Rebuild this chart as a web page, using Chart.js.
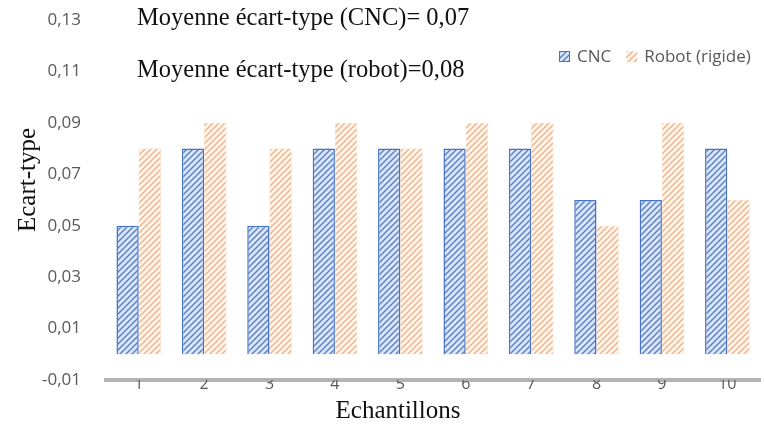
<!DOCTYPE html>
<html><head><meta charset="utf-8">
<script src="https://cdn.jsdelivr.net/npm/chart.js@4/dist/chart.umd.min.js"></script>
<style>html,body{margin:0;padding:0;background:#fff}#wrap{width:764px;height:427px}</style>
</head><body><div id="wrap"><canvas id="c" width="764" height="427"></canvas></div>
<script>
const categories = ['1','2','3','4','5','6','7','8','9','10'];
const cncValues = [0.05,0.08,0.05,0.08,0.08,0.08,0.08,0.06,0.06,0.08];
const robotValues = [0.08,0.09,0.08,0.09,0.08,0.09,0.09,0.05,0.09,0.06];
const seriesNames = ['CNC','Robot (rigide)'];
const yTicks = [-0.01,0.01,0.03,0.05,0.07,0.09,0.11,0.13];
const annotations = [
  {text:'Moyenne écart-type (CNC)= 0,07', y:0.13},
  {text:'Moyenne écart-type (robot)=0,08', y:0.11}
];
const xTitle = 'Echantillons';
const yTitle = 'Ecart-type';

function hatch(bg, fg){
  const c=document.createElement('canvas');c.width=6;c.height=6;
  const g=c.getContext('2d');g.fillStyle=bg;g.fillRect(0,0,6,6);
  g.strokeStyle=fg;g.lineWidth=1.4;
  g.beginPath();
  g.moveTo(-1,7);g.lineTo(7,-1);
  g.moveTo(-1,1);g.lineTo(1,-1);
  g.moveTo(5,7);g.lineTo(7,5);
  g.stroke();
  return g.createPattern(c,'repeat');
}
const cncFill = hatch('#dbe5f5','#5580cc');
const robotFill = hatch('#fff6ee','#f4b183');

const extras = {
  id:'extras',
  afterDraw(chart){
    const ctx=chart.ctx, y=chart.scales.y;
    ctx.save();
    ctx.fillStyle='#111';
    ctx.font='24.5px "Liberation Serif"';
    ctx.textBaseline='middle';ctx.textAlign='left';
    annotations.forEach(a=>ctx.fillText(a.text, 137, y.getPixelForValue(a.y)-1));
    ctx.font='25px "Liberation Serif"';
    ctx.textAlign='center';
    ctx.fillText(xTitle, 398, 411);
    ctx.save();ctx.translate(28,180);ctx.rotate(-Math.PI/2);ctx.fillText(yTitle,0,0);ctx.restore();
    // legend
    ctx.font='17px "Open Sans"';ctx.textAlign='left';
    const ly=57;
    const fills=[cncFill,robotFill], borders=['#4472c4',null];
    let lx=559;
    seriesNames.forEach((n,i)=>{
      ctx.fillStyle=fills[i];ctx.fillRect(lx,ly-6,11,11);
      if(borders[i]){ctx.strokeStyle=borders[i];ctx.lineWidth=1;ctx.strokeRect(lx+0.5,ly-5.5,10,10);}
      ctx.fillStyle='#595959';ctx.fillText(n,lx+18,ly);
      lx+=18+ctx.measureText(n).width+15;
    });
    ctx.restore();
  }
};

new Chart(document.getElementById('c'),{
  type:'bar',
  data:{labels:categories,datasets:[
    {label:seriesNames[0],data:cncValues,backgroundColor:cncFill,borderColor:'#4472c4',borderWidth:1.5,categoryPercentage:0.68,barPercentage:1.0},
    {label:seriesNames[1],data:robotValues,backgroundColor:robotFill,borderColor:'#f8cbad',borderWidth:0.5,categoryPercentage:0.68,barPercentage:1.0}
  ]},
  options:{
    responsive:false,animation:false,
    layout:{padding:{top:20,right:4,left:0,bottom:0}},
    plugins:{legend:{display:false},tooltip:{enabled:false}},
    scales:{
      x:{grid:{display:false,drawTicks:false},border:{display:true,color:'#b3b3b3',width:4},
         ticks:{color:'#595959',font:{family:'"Open Sans"',size:16},padding:-5},
         afterFit(s){s.height=47;s.paddingLeft=0;s.paddingRight=0;}},
      y:{min:-0.01,max:0.13,grid:{display:false,drawTicks:false},border:{display:false},
         afterBuildTicks(s){s.ticks=yTicks.map(v=>({value:v}));},
         ticks:{color:'#595959',font:{family:'"Open Sans"',size:17},padding:25,
           callback:v=>v.toFixed(2).replace('.',',')},
         afterFit(s){s.width=106;s.paddingTop=0;s.paddingBottom=0;}}
    }
  },
  plugins:[extras]
});
</script></body></html>
